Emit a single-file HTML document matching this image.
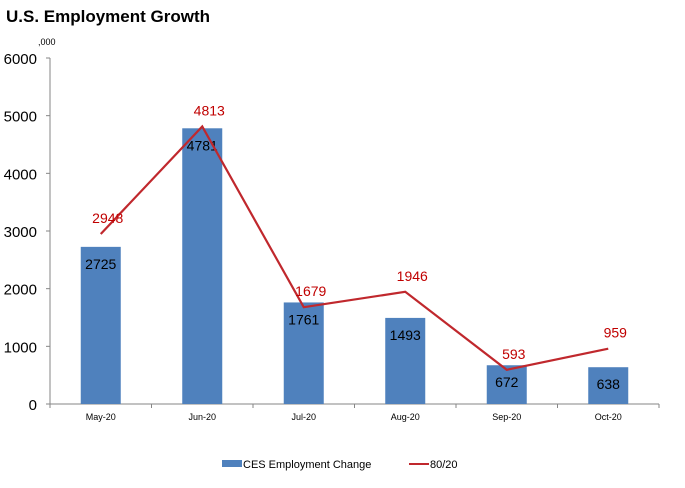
<!DOCTYPE html>
<html><head><meta charset="utf-8"><style>
body{margin:0;background:#fff;font-family:"Liberation Sans",sans-serif;}
svg text{font-family:"Liberation Sans",sans-serif;}
</style></head><body>
<svg id="c" width="685" height="483" xmlns="http://www.w3.org/2000/svg">
<text x="6" y="22" font-size="17" font-weight="bold" fill="#000">U.S. Employment Growth</text>
<text x="38" y="45" font-size="9" fill="#000">,000</text>
<g id="plot"></g>
<g>
<rect x="222" y="460" width="20" height="7" fill="#4f81bd"/>
<text x="243" y="468" font-size="11" fill="#000">CES Employment Change</text>
<line x1="409" y1="464" x2="429" y2="464" stroke="#c0282d" stroke-width="2"/>
<text x="430" y="468" font-size="11" fill="#000">80/20</text>
</g>
</svg>
<script>
const categories=["May-20","Jun-20","Jul-20","Aug-20","Sep-20","Oct-20"];
const cesValues=[2725,4781,1761,1493,672,638];
const lineValues=[2948,4813,1679,1946,593,959];
const yTicks=[0,1000,2000,3000,4000,5000,6000];
const NS="http://www.w3.org/2000/svg";
const g=document.getElementById('plot');
const X0=50,X1=659,Y0=404,Y1=58,YMAX=6000;
const band=(X1-X0)/categories.length;
const xc=i=>X0+band*(i+0.5);
const y=v=>Y0-(v/YMAX)*(Y0-Y1);
function mk(t,a,txt){const e=document.createElementNS(NS,t);for(const k in a)e.setAttribute(k,a[k]);if(txt!==undefined)e.textContent=txt;g.appendChild(e);return e;}
let e;
e=mk('line',{x1:X0,y1:Y1,x2:X0,y2:Y0,stroke:'#868686'});


e=mk('line',{x1:X0,y1:Y0,x2:X1,y2:Y0,stroke:'#868686'});


yTicks.forEach(t=>{
 e=mk('line',{x1:X0-4,y1:y(t),x2:X0,y2:y(t),stroke:'#868686'});
 
 
 e=mk('text',{x:X0-13,y:y(t)+6,'font-size':15,'text-anchor':'end',fill:'#000'},String(t));
 
 
});
for(let i=0;i<=categories.length;i++){
 e=mk('line',{x1:X0+band*i,y1:Y0,x2:X0+band*i,y2:Y0+4,stroke:'#868686'});
 
 
}
categories.forEach((c,i)=>{
 e=mk('text',{x:xc(i),y:Y0+16,'font-size':9,'text-anchor':'middle',fill:'#000'},c);
 
 
 const v=cesValues[i];
 e=mk('rect',{x:xc(i)-20,y:y(v),width:40,height:Y0-y(v),fill:'#4f81bd'});
 
 
 e=mk('text',{x:xc(i),y:y(v)+22,'font-size':14,'text-anchor':'middle',fill:'#000'},String(v));
 
 
});
e=mk('polyline',{points:lineValues.map((v,i)=>xc(i)+','+y(v)).join(' '),fill:'none',stroke:'#c0282d','stroke-width':2.2});


lineValues.forEach((v,i)=>{
 e=mk('text',{x:xc(i)+7,y:y(v)-11,'font-size':14,'text-anchor':'middle',fill:'#c00000'},String(v));
 
 
});
</script>
</body></html>
